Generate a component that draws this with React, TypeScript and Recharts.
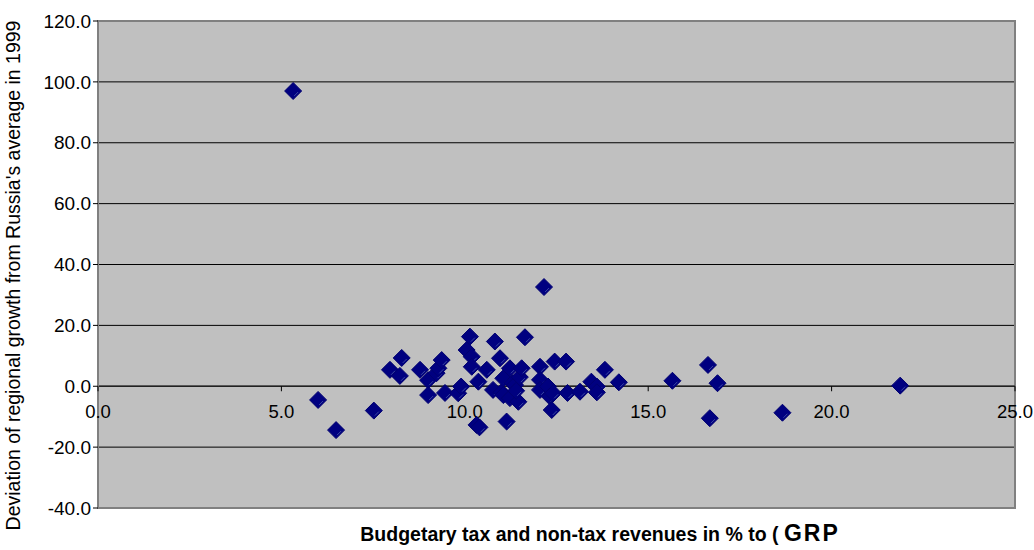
import React from 'react';
import {
  ScatterChart, Scatter, XAxis, YAxis, CartesianGrid, ReferenceLine, ReferenceDot, ReferenceArea,
} from 'recharts';

const revenueShare: number[] = [
  5.32, 6.0, 6.49, 7.52, 7.96, 8.23, 8.28, 8.78, 9.0, 9.0,
  9.23, 9.28, 9.37, 9.46, 9.82, 9.9, 10.05, 10.14, 10.19, 10.19,
  10.32, 10.4, 10.37, 10.6, 10.77, 10.82, 10.96, 11.0, 11.05, 11.05,
  11.14, 11.23, 11.23, 11.3, 11.37, 11.46, 11.5, 11.55, 11.64, 11.4,
  12.05, 12.05, 12.05, 12.16, 12.27, 12.32, 12.37, 12.41, 12.45, 12.76,
  12.8, 13.14, 13.45, 13.6, 13.6, 13.82, 14.2, 15.66, 16.63, 16.68,
  16.89, 18.66, 21.87,
];
const growthDeviation: number[] = [
  97.0, -4.5, -14.4, -8.0, 5.4, 3.4, 9.3, 5.4, 2.0, -2.9,
  4.3, 5.9, 8.6, -2.2, -2.3, -0.1, 11.9, 16.3, 9.7, 6.4,
  -12.7, -13.5, 1.5, 5.4, -1.2, 14.7, 9.2, -2.0, 2.6, -2.9,
  -11.6, 5.9, -3.9, 1.0, 0.4, -5.1, 3.0, 5.9, 16.1, -1.5,
  6.4, 2.1, -1.2, 32.6, -0.1, -3.4, -7.8, -2.3, 8.1, 8.1,
  -2.2, -1.8, 1.5, -0.1, -2.0, 5.4, 1.3, 1.8, 7.0, -10.5,
  1.0, -8.7, 0.2,
];
const xTicks: number[] = [0, 5, 10, 15, 20, 25];
const yTicks: number[] = [-40, -20, 0, 20, 40, 60, 80, 100, 120];

const xTitle = 'Budgetary tax and non-tax revenues in % to ( ';
const xTitleTail = 'GRP';
const yTitle = "Deviation of regional growth from Russia's average in 1999";

const data = revenueShare.map((x, i) => ({ x, y: growthDeviation[i] }));

const FONT = '"Liberation Sans", Arial, sans-serif';

const Diamond = (props: any) => {
  const { cx, cy } = props;
  const h = 8.5;
  return (
    <g>
      <polygon
        points={`${cx},${cy - h} ${cx + h},${cy} ${cx},${cy + h} ${cx - h},${cy}`}
        fill="#000080"
        stroke="#000070"
        strokeWidth={1}
        strokeLinejoin="round"
      />
      <line x1={cx + 1} y1={cy + 5} x2={cx + 5} y2={cy + 1} stroke="#4a5aa8" strokeWidth={0.8} />
    </g>
  );
};

const XTickDot = (label: string) => (props: any) => {
  const { cx, cy } = props;
  return (
    <g>
      <line x1={cx} y1={cy} x2={cx} y2={cy + 5} stroke="#000" strokeWidth={1} />
      <text x={cx} y={cy + 32} textAnchor="middle" fontFamily={FONT} fontSize={18.5} fill="#000">
        {label}
      </text>
    </g>
  );
};

export default function App() {
  return (
    <div style={{ position: 'absolute', left: 0, top: 0, width: 1034, height: 550, background: '#fff' }}>
      <ScatterChart width={1034} height={550} margin={{ top: 21, right: 19, bottom: 0, left: 8 }}>
        <CartesianGrid horizontal vertical={false} stroke="#000" strokeWidth={1} fill="#C0C0C0" />
        <ReferenceArea x1={0} x2={25} y1={-40} y2={120} fill="none" stroke="#808080" strokeWidth={2} ifOverflow="visible" />
        <XAxis
          type="number"
          dataKey="x"
          domain={[0, 25]}
          ticks={xTicks}
          tick={false}
          axisLine={false}
          tickLine={false}
          height={42}
          label={{
            content: () => (
              <text x={600} y={541} textAnchor="middle" fontFamily={FONT} fontWeight="bold" fill="#000">
                <tspan fontSize={19.5}>{xTitle}</tspan>
                <tspan fontSize={23} letterSpacing={2}>{xTitleTail}</tspan>
              </text>
            ),
          }}
        />
        <YAxis
          type="number"
          dataKey="y"
          domain={[-40, 120]}
          ticks={yTicks}
          interval={0}
          width={90}
          axisLine={{ stroke: '#808080', strokeWidth: 2 }}
          tickLine={{ stroke: '#000' }}
          tickSize={5}
          tickMargin={2}
          tick={{ fontFamily: FONT, fontSize: 19, fill: '#000' }}
          tickFormatter={(v: number) => v.toFixed(1)}
          label={{
            content: (p: any) => {
              const vb = p.viewBox;
              const x = 13;
              const y = vb.y + vb.height / 2 + 11;
              return (
                <text x={x} y={y} transform={`rotate(-90 ${x} ${y})`} textAnchor="middle" dominantBaseline="central" fontFamily={FONT} fontSize={19.5} fill="#000">
                  {yTitle}
                </text>
              );
            },
          }}
        />
        <ReferenceLine y={0} stroke="#222" strokeWidth={1.5} />
        {xTicks.map((t) => (
          <ReferenceDot key={t} x={t} y={0} r={0} ifOverflow="visible" shape={XTickDot(t.toFixed(1))} />
        ))}
        <Scatter data={data} shape={<Diamond />} isAnimationActive={false} />
      </ScatterChart>
    </div>
  );
}
